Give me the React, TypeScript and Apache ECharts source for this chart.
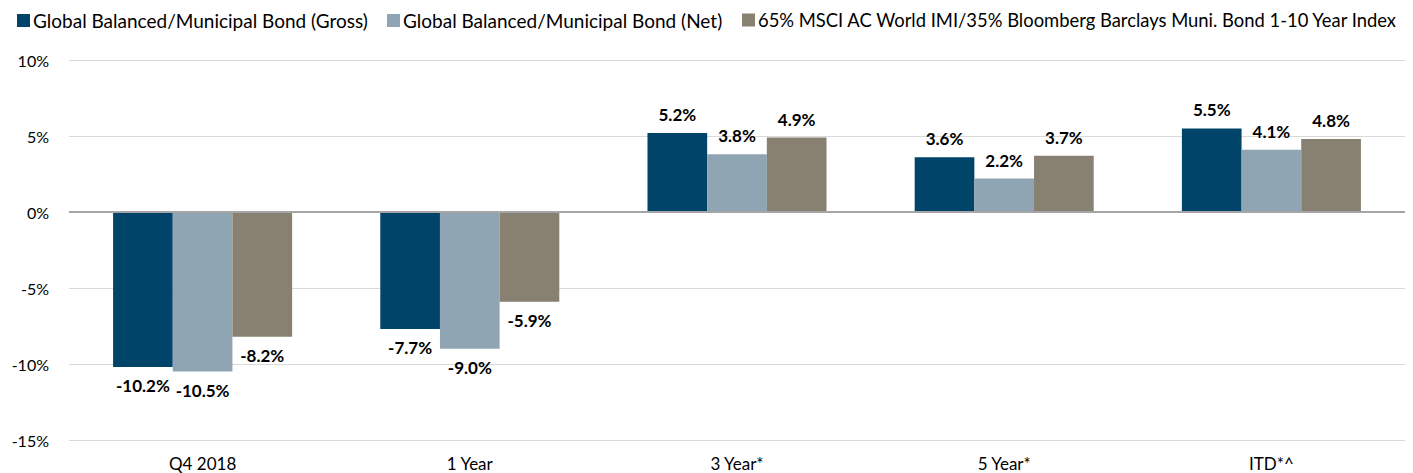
import React, { useEffect, useRef } from "react";
import * as echarts from "echarts";

const categories = ["Q4 2018", "1 Year", "3 Year*", "5 Year*", "ITD*^"];
const seriesNames = [
  "Global Balanced/Municipal Bond (Gross)",
  "Global Balanced/Municipal Bond (Net)",
  "65% MSCI AC World IMI/35% Bloomberg Barclays Muni. Bond 1-10 Year Index",
];
const grossValues = [-10.2, -7.7, 5.2, 3.6, 5.5];
const netValues = [-10.5, -9.0, 3.8, 2.2, 4.1];
const indexValues = [-8.2, -5.9, 4.9, 3.7, 4.8];
const colors = ["#00446A", "#8FA5B4", "#888070"];
const yTicks = { min: -15, max: 10, interval: 5 };
const legendLefts = [17, 387, 742];
const legendSizes = [19, 19, 18.4];

const FONT = "Lato";

export default function App() {
  const ref = useRef<HTMLDivElement>(null);
  useEffect(() => {
    if (!ref.current) return;
    const chart = echarts.init(ref.current, undefined, { renderer: "svg" });
    const mk = (name: string, vals: number[], color: string, idx: number) => ({
      name,
      type: "bar",
      barGap: "0%",
      barCategoryGap: "33%",
      itemStyle: { color },
      data: vals.map((v) => ({
        value: v,
        label: { position: v < 0 ? "bottom" : "top" },
      })),
      label: {
        show: true,
        formatter: (p: any) => p.value.toFixed(1) + "%",
        fontFamily: FONT,
        fontWeight: "bold",
        fontSize: 17,
        color: "#000",
        distance: 10,
      },
      markLine:
        idx === 0
          ? {
              silent: true,
              symbol: "none",
              label: { show: false },
              lineStyle: { color: "#a6a6a6", width: 2, type: "solid" },
              data: [{ yAxis: 0 }],
            }
          : undefined,
    });
    chart.setOption({
      animation: false,
      textStyle: { fontFamily: FONT },
      legend: seriesNames.map((n, i) => ({
        left: legendLefts[i],
        top: 11,
        padding: 0,
        itemWidth: 13,
        itemHeight: 13,
        icon: "rect",
        textStyle: {
          fontFamily: FONT,
          fontSize: legendSizes[i],
          color: "#000",
          padding: [0, 0, 0, -2],
        },
        data: [n],
      })),
      grid: { left: 69, right: 8, top: 60, bottom: 33 },
      xAxis: {
        type: "category",
        data: categories,
        axisLine: { show: false },
        axisTick: { show: false },
        axisLabel: { fontFamily: FONT, fontSize: 17, color: "#000", margin: 15 },
      },
      yAxis: {
        type: "value",
        min: yTicks.min,
        max: yTicks.max,
        interval: yTicks.interval,
        axisLabel: {
          formatter: (v: number) => v + "%",
          fontFamily: FONT,
          fontSize: 16,
          color: "#000",
          margin: 20,
        },
        splitLine: { lineStyle: { color: "#d9d9d9", width: 1 } },
      },
      series: [
        mk(seriesNames[0], grossValues, colors[0], 0),
        mk(seriesNames[1], netValues, colors[1], 1),
        mk(seriesNames[2], indexValues, colors[2], 2),
      ],
    });
    return () => chart.dispose();
  }, []);
  return (
    <div
      ref={ref}
      style={{ position: "fixed", left: 0, top: 0, width: 1413, height: 473, background: "#fff" }}
    />
  );
}
